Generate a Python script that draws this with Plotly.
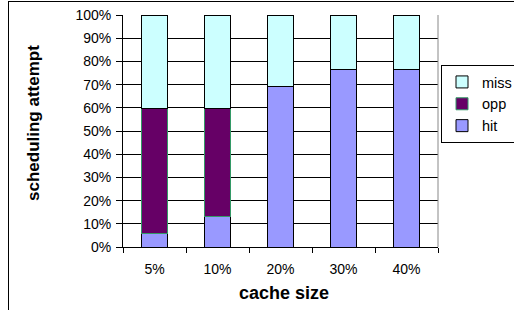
import plotly.graph_objects as go

categories = ["5%", "10%", "20%", "30%", "40%"]
hit = [6, 13, 69, 76.5, 76.5]
opp = [53.5, 46.5, 0, 0, 0]
miss = [40.5, 40.5, 31, 23.5, 23.5]
y_ticks = [0, 10, 20, 30, 40, 50, 60, 70, 80, 90, 100]
y_tick_labels = [f"{v}%" for v in y_ticks]

FONT = "Liberation Sans, Arial, sans-serif"

fig = go.Figure()
fig.add_trace(go.Bar(name="hit", x=categories, y=hit, legendrank=3,
                     marker=dict(color="#9999FF", line=dict(color="#000000", width=1))))
fig.add_trace(go.Bar(name="opp", x=categories, y=opp, legendrank=2,
                     marker=dict(color="#660066", line=dict(color="#339966", width=1))))
fig.add_trace(go.Bar(name="miss", x=categories, y=miss, legendrank=1,
                     marker=dict(color="#CCFFFF", line=dict(color="#000000", width=1))))

fig.update_layout(
    barmode="stack",
    bargap=0.6,
    width=514, height=310,
    margin=dict(l=123, r=76, t=15, b=63, autoexpand=False),
    paper_bgcolor="white", plot_bgcolor="white",
    font=dict(family=FONT, color="black", size=14),
    legend=dict(x=(441 - 123) / 315, y=(247 - 65) / 232, xanchor="left", yanchor="top",
                bordercolor="black", borderwidth=1, bgcolor="white",
                traceorder="normal", tracegroupgap=0,
                font=dict(size=14.5, family=FONT), itemwidth=30),
    xaxis=dict(type="category", showline=True, linecolor="black", linewidth=1,
               ticks="outside", ticklen=5, tickcolor="black", tickson="boundaries",
               showgrid=False, tickfont=dict(size=14), automargin=False,
               ticklabelstandoff=9),
    yaxis=dict(range=[0, 100], tickvals=y_ticks, ticktext=y_tick_labels,
               showline=True, linecolor="black", linewidth=1,
               ticks="outside", ticklen=6, tickcolor="black",
               showgrid=True, gridcolor="black", gridwidth=1,
               tickfont=dict(size=14), zeroline=False, automargin=False,
               ticklabelstandoff=2),
    showlegend=True,
    annotations=[
        dict(text="<b>scheduling attempt</b>", xref="paper", yref="paper",
             x=(33 - 123) / 315, y=(247 - 123) / 232, textangle=-90,
             showarrow=False, font=dict(size=17, family=FONT),
             xanchor="center", yanchor="middle"),
        dict(text="<b>cache size</b>", xref="paper", yref="paper",
             x=(284 - 123) / 315, y=(247 - 293) / 232,
             showarrow=False, font=dict(size=18, family=FONT),
             xanchor="center", yanchor="middle"),
    ],
    shapes=[
        dict(type="line", xref="paper", yref="paper", x0=1, x1=1, y0=0, y1=1,
             line=dict(color="#888888", width=1)),
        dict(type="line", xref="paper", yref="paper",
             x0=(8 - 123) / 315, x1=(520 - 123) / 315,
             y0=(247 - 1.5) / 232, y1=(247 - 1.5) / 232,
             line=dict(color="black", width=1)),
        dict(type="line", xref="paper", yref="paper",
             x0=(8.5 - 123) / 315, x1=(8.5 - 123) / 315,
             y0=(247 - 1) / 232, y1=(247 - 320) / 232,
             line=dict(color="black", width=1)),
    ],
)

fig.write_html("out.html", config={"displayModeBar": False},
               post_script="document.body.style.margin='0';document.body.style.padding='0';")
